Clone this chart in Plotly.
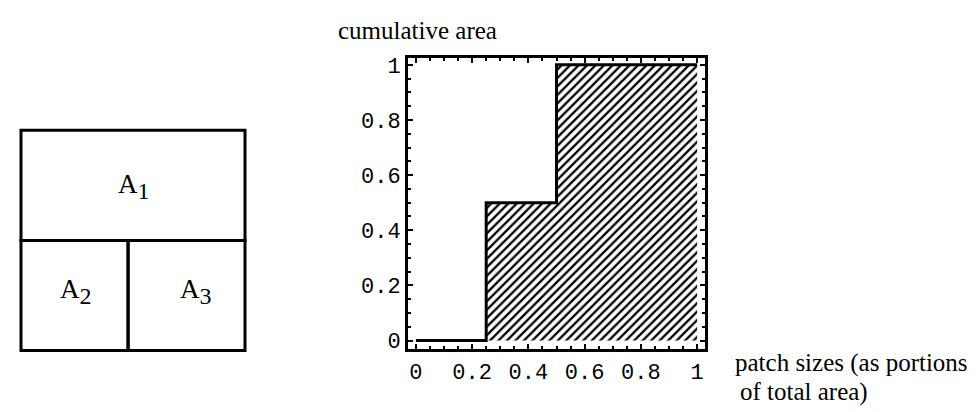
import plotly.graph_objects as go

# ---- data ----
patch_names = ["A", "A", "A"]
patch_index = ["1", "2", "3"]
patch_sizes = [0.5, 0.25, 0.25]          # portions of total area
size_steps = [0.0, 0.25, 0.5, 1.0]        # patch size (x)
cumulative_area = [0.0, 0.5, 1.0, 1.0]    # cumulative area (y)
x_ticks = [0, 0.2, 0.4, 0.6, 0.8, 1]
x_tick_text = ["0", "0.2", "0.4", "0.6", "0.8", "1"]
y_ticks = [0, 0.2, 0.4, 0.6, 0.8, 1]
y_tick_text = ["0", "0.2", "0.4", "0.6", "0.8", "1"]

# schematic layout of the patches (diagram units)
patch_x0 = [0.0, 0.0, 0.478]
patch_x1 = [1.0, 0.478, 1.0]
patch_y0 = [0.5, 0.0, 0.0]
patch_y1 = [1.0, 0.5, 0.5]
label_x = [0.424, 0.165, 0.70]
label_y = [0.747, 0.267, 0.267]

W, H = 978, 412
SERIF = "Liberation Serif, Times New Roman, serif"
MONO = "Liberation Mono, Courier New, monospace"

fig = go.Figure()

fig.add_trace(go.Scatter(
    x=size_steps, y=cumulative_area,
    mode="lines", line=dict(color="black", width=3, shape="hv"),
    fill="tozeroy", fillcolor="white",
    fillpattern=dict(shape="/", size=6, solidity=0.38,
                     fgcolor="black", bgcolor="white", fillmode="replace"),
    showlegend=False, hoverinfo="skip",
    xaxis="x", yaxis="y",
))

axis_common = dict(
    showgrid=False, zeroline=False,
    showline=True, linecolor="black", linewidth=3, mirror="allticks",
    ticks="inside", ticklen=5, tickwidth=2, tickcolor="black",
    tickfont=dict(family=MONO, size=22, color="black"),
    minor=dict(ticks="inside", dtick=0.05, ticklen=3, tickwidth=2,
               tickcolor="black", showgrid=False),
)

# diagram box in pixels: x 13..237, y 122..347 ; padded range so borders are not clipped
pad = 0.05
bx0, bx1, by0, by1 = 13, 237, 122, 347
px_x = (bx1 - bx0) * pad
px_y = (by1 - by0) * pad

fig.update_layout(
    width=W, height=H,
    margin=dict(l=0, r=0, t=0, b=0),
    paper_bgcolor="white", plot_bgcolor="white",
    xaxis=dict(domain=[400 / W, 697 / W], range=[-0.028, 1.028],
               tickvals=x_ticks, ticktext=x_tick_text, **axis_common),
    yaxis=dict(domain=[1 - 345.7 / H, 1 - 47.7 / H], range=[-0.031, 1.026],
               tickvals=y_ticks, ticktext=y_tick_text, **axis_common),
    xaxis2=dict(domain=[(bx0 - px_x) / W, (bx1 + px_x) / W],
                range=[-pad, 1 + pad], visible=False, anchor="y2"),
    yaxis2=dict(domain=[1 - (by1 + px_y) / H, 1 - (by0 - px_y) / H],
                range=[-pad, 1 + pad], visible=False, anchor="x2"),
)

# dummy trace to activate diagram axes
fig.add_trace(go.Scatter(x=[0, 1], y=[0, 1], mode="markers",
                         marker=dict(opacity=0), xaxis="x2", yaxis="y2",
                         showlegend=False, hoverinfo="skip"))

for x0, x1, y0, y1 in zip(patch_x0, patch_x1, patch_y0, patch_y1):
    fig.add_shape(type="rect", xref="x2", yref="y2",
                  x0=x0, x1=x1, y0=y0, y1=y1,
                  line=dict(color="black", width=3), fillcolor="rgba(0,0,0,0)")

for name, idx, lx, ly in zip(patch_names, patch_index, label_x, label_y):
    lab = f"{name}<sub><span style='font-size:24px'>{idx}</span></sub>"
    fig.add_annotation(text=lab, x=lx, y=ly, xref="x2", yref="y2",
                       xanchor="left", yanchor="middle", showarrow=False,
                       font=dict(family=SERIF, size=27, color="black"))

fig.add_annotation(text="cumulative area", x=328 / W, y=1 - 20 / H,
                   xref="paper", yref="paper", xanchor="left",
                   yanchor="middle", showarrow=False,
                   font=dict(family=SERIF, size=25, color="black"))
fig.add_annotation(text="patch sizes (as portions", x=725 / W, y=1 - 360 / H,
                   xref="paper", yref="paper", xanchor="left",
                   yanchor="middle", showarrow=False,
                   font=dict(family=SERIF, size=25, color="black"))
fig.add_annotation(text="of total area)", x=730 / W, y=1 - 390 / H,
                   xref="paper", yref="paper", xanchor="left",
                   yanchor="middle", showarrow=False,
                   font=dict(family=SERIF, size=25, color="black"))

fig.write_html("out.html")
